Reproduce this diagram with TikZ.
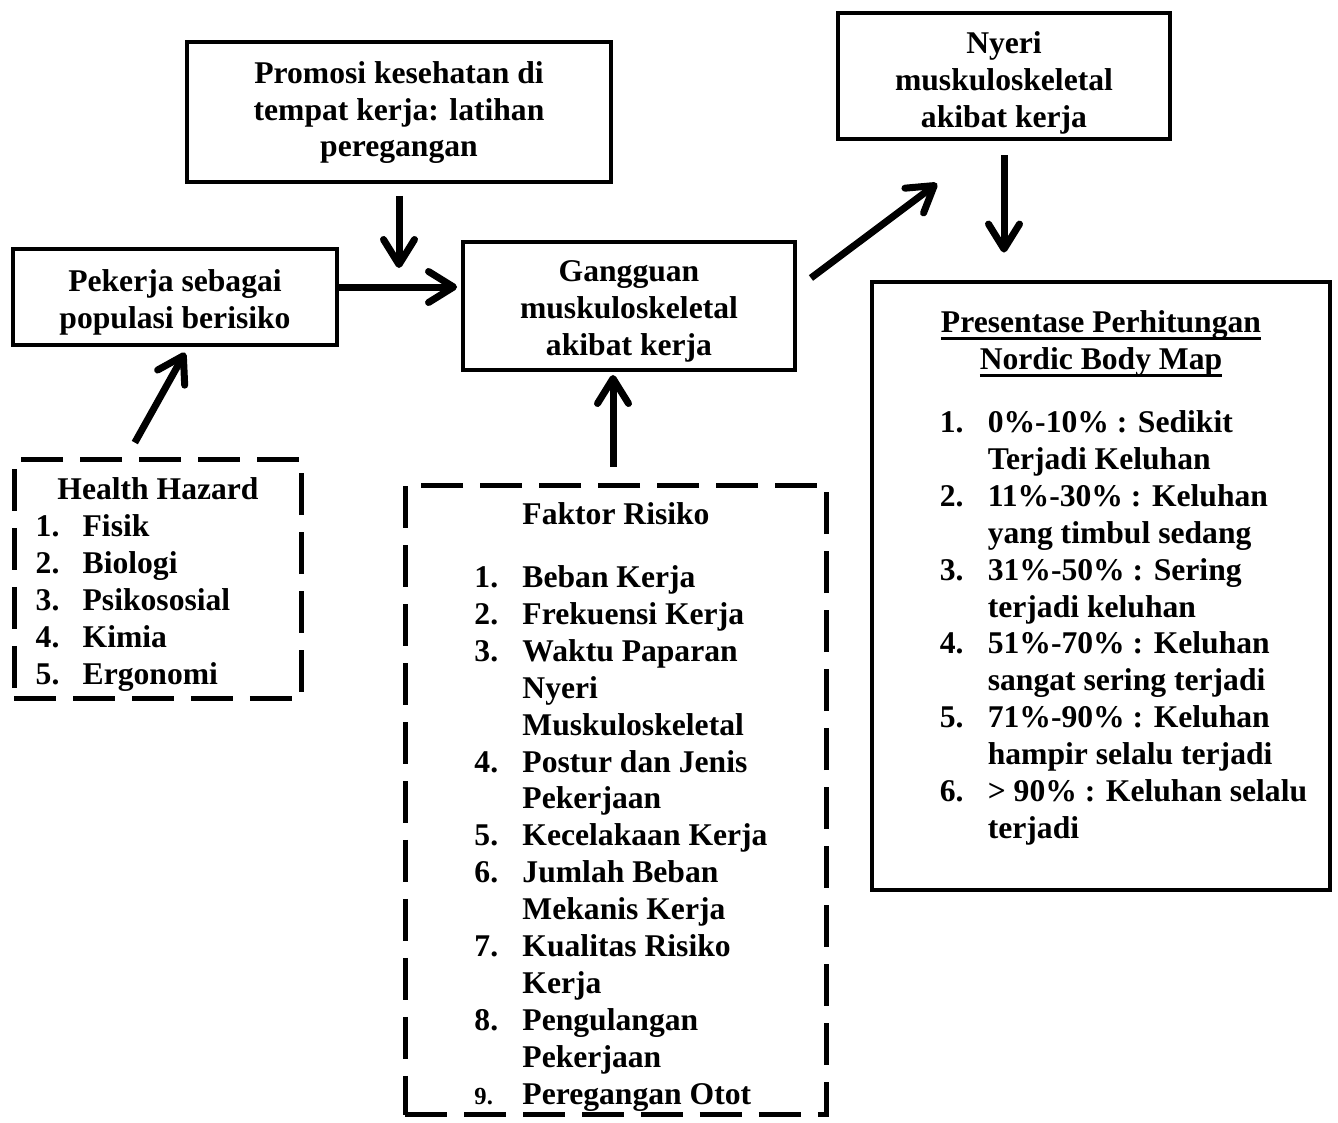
\documentclass[tikz,border=0pt]{standalone}
\usepackage{fontspec}
\setmainfont{Liberation Serif}
\usetikzlibrary{arrows.meta}
\newcommand{\titleline}[1]{\setbox0\hbox{#1}\rlap{\rule[-0.15cm]{\wd0}{0.07cm}}\box0}

\begin{document}
\begin{tikzpicture}[
    x=0.02cm, y=-0.02cm,
    box/.style={rectangle, draw=black, line width=0.08cm, align=center, inner sep=0pt, font=\fontsize{18}{21}\selectfont\bfseries},
    dashbox/.style={box, line width=0.1cm, dash pattern=on 0.84cm off 0.34cm},
    arrow/.style={-{Straight Barb[length=0.5cm, width=0.62cm, round]}, line width=0.14cm, black}
]
\useasboundingbox (0,0) rectangle (1338,1122);

% Top row
\node[box, text height=1.8cm, text depth=0pt, minimum width=8.5cm, minimum height=2.8cm] (promosi) at (399,112) {Promosi kesehatan di\\tempat kerja: latihan\\peregangan};
\node[box, text height=2.06cm, text depth=0pt, minimum width=6.64cm, minimum height=2.54cm] (nyeri) at (1004,76) {Nyeri\\muskuloskeletal\\akibat kerja};

% Middle row
\node[box, text height=1.26cm, text depth=0pt, minimum width=6.5cm, minimum height=1.94cm] (pekerja) at (175,297) {Pekerja sebagai\\populasi berisiko};
\node[box, text height=1.98cm, text depth=0pt, minimum width=6.64cm, minimum height=2.56cm] (gangguan) at (629,306) {Gangguan\\muskuloskeletal\\akibat kerja};

% Lists
\node[dashbox, text height=0pt, text depth=1.7cm, minimum width=5.76cm, minimum height=4.8cm] (hazard) at (158,579) {Health Hazard\\
\begin{tabular}[t]{@{}p{0.94cm}@{}l@{}}
1. & Fisik\\
2. & Biologi\\
3. & Psikososial\\
4. & Kimia\\
5. & Ergonomi
\end{tabular}\hspace*{1cm}};

\node[dashbox, text height=0pt, text depth=8.5cm, minimum width=8.44cm, minimum height=12.6cm] (faktor) at (616,800) {Faktor Risiko\\[0.52cm]
\hspace*{0.2cm}\begin{tabular}[t]{@{}p{0.96cm}@{}l@{}}
1. & Beban Kerja\\
2. & Frekuensi Kerja\\
3. & Waktu Paparan\\
   & Nyeri\\
   & Muskuloskeletal\\
4. & Postur dan Jenis\\
   & Pekerjaan\\
5. & Kecelakaan Kerja\\
6. & Jumlah Beban\\
   & Mekanis Kerja\\
7. & Kualitas Risiko\\
   & Kerja\\
8. & Pengulangan\\
   & Pekerjaan\\
{\fontsize{14}{21}\selectfont 9.} & Peregangan Otot
\end{tabular}};

\node[box, text height=0pt, text depth=6.14cm, minimum width=9.18cm, minimum height=12.18cm] (presentase) at (1101,586) {\titleline{Presentase Perhitungan}\\\titleline{Nordic Body Map}\\[0.52cm]
\hspace*{0.9cm}\begin{tabular}[t]{@{}p{0.96cm}@{}l@{}}
1. & 0\%-10\% : Sedikit\\
   & Terjadi Keluhan\\
2. & 11\%-30\% : Keluhan\\
   & yang timbul sedang\\
3. & 31\%-50\% : Sering\\
   & terjadi keluhan\\
4. & 51\%-70\% : Keluhan\\
   & sangat sering terjadi\\
5. & 71\%-90\% : Keluhan\\
   & hampir selalu terjadi\\
6. & > 90\% : Keluhan selalu\\
   & terjadi
\end{tabular}};

% Arrows
\draw[arrow, shorten <=0.24cm, shorten >=0.58cm] (promosi.south) -- (promosi.south |- pekerja.east);
\draw[arrow, shorten >=0.08cm] ([yshift=0.2cm]pekerja.east) -- ([yshift=0.2cm]pekerja.east -| gangguan.west);
\draw[arrow, shorten <=0.32cm, shorten >=0.12cm] ([xshift=-0.62cm]hazard.north) -- ([xshift=0.26cm]pekerja.south);
\draw[arrow, shorten <=0.32cm, shorten >=0.06cm] ([xshift=-0.06cm]faktor.north) -- ([xshift=-0.06cm]faktor.north |- gangguan.south);
\draw[arrow] ([shift={(14,-28)}]gangguan.east) -- ([shift={(101,42)}]nyeri.south west);
\draw[arrow, shorten <=0.28cm, shorten >=0.54cm] (nyeri.south) -- (nyeri.south |- presentase.north);

\end{tikzpicture}
\end{document}
